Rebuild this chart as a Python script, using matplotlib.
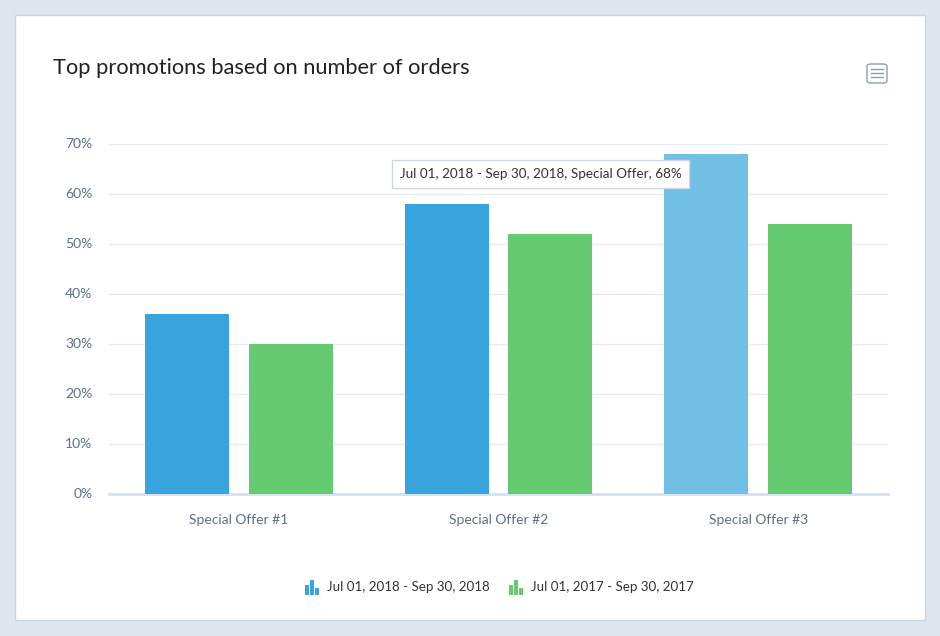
import matplotlib
matplotlib.use("Agg")
import matplotlib.pyplot as plt
from matplotlib.patches import Rectangle, FancyBboxPatch
import numpy as np

categories = ["Special Offer #1", "Special Offer #2", "Special Offer #3"]
series_2018 = [36, 58, 68]
series_2017 = [30, 52, 54]
series_names = ["Jul 01, 2018 - Sep 30, 2018", "Jul 01, 2017 - Sep 30, 2017"]
y_ticks = [0, 10, 20, 30, 40, 50, 60, 70]
y_tick_labels = [f"{v}%" for v in y_ticks]
title = "Top promotions based on number of orders"
tooltip = "Jul 01, 2018 - Sep 30, 2018, Special Offer, 68%"

BLUE = "#38a4dd"
BLUE_HOVER = "#72bfe6"
GREEN = "#66cb70"
TICK = "#5b7089"
FONT = ["Lato", "DejaVu Sans"]

W, H = 940, 636
fig = plt.figure(figsize=(W / 100, H / 100), dpi=100)
fig.patch.set_facecolor("#dfe6ee")

# white card
card = Rectangle((15 / W, (H - 620) / H), 910 / W, 605 / H, transform=fig.transFigure,
                 facecolor="white", edgecolor="#c9d6e3", linewidth=1, zorder=-10)
fig.patches.append(card)

ax = fig.add_axes([109 / W, (H - 493.5) / H, 779 / W, 350 / H], zorder=1)
ax.set_facecolor("none")
x = np.arange(len(categories))
bw = 0.323
b1 = ax.bar(x - 0.2, series_2018, width=bw, color=BLUE, zorder=3)
b1[2].set_facecolor(BLUE_HOVER)
ax.bar(x + 0.2, series_2017, width=bw, color=GREEN, zorder=3)
ax.set_xlim(-0.5, 2.5)
ax.set_ylim(0, 70)
ax.set_yticks(y_ticks)
ax.set_yticklabels(y_tick_labels, fontsize=10, color=TICK, family=FONT)
ax.set_xticks(x)
ax.set_xticklabels(categories, fontsize=10, color=TICK, family=FONT)
ax.tick_params(axis="both", length=0)
ax.tick_params(axis="y", pad=12)
ax.tick_params(axis="x", pad=15)
ax.grid(axis="y", color="#e6ebf1", linewidth=1, zorder=0)
for s in ["top", "right", "left"]:
    ax.spines[s].set_visible(False)
ax.spines["bottom"].set_color("#d5e1ee")
ax.spines["bottom"].set_linewidth(2)

fig.text(53 / W, 1 - 68 / H, title, fontsize=15.75, color="#222222", family=FONT, va="center", zorder=2)

# menu icon
menu = FancyBboxPatch((867 / W, 1 - 83 / H), 20 / W, 19 / H, boxstyle="round,pad=0,rounding_size=0.004",
                      transform=fig.transFigure, facecolor="white", edgecolor="#8a9db2", linewidth=1, zorder=2)
fig.patches.append(menu)
for yy in [69, 73, 77]:
    fig.add_artist(plt.Line2D([871 / W, 883 / W], [1 - yy / H] * 2, color="#8a9db2", linewidth=1, zorder=3))

# tooltip
fig.text(540.5 / W, 1 - 174 / H, tooltip, fontsize=9.7, color="#333333", family=FONT,
         ha="center", va="center", zorder=5,
         bbox=dict(boxstyle="square,pad=0.6", facecolor="white", edgecolor="#cfd8e2", linewidth=1))

# legend
def legend_icon(x0, color):
    for dx, h in [(0, 10), (5, 15), (10, 7)]:
        fig.patches.append(Rectangle(((x0 + dx) / W, 1 - 595 / H), 4 / W, h / H,
                                     transform=fig.transFigure, facecolor=color, edgecolor="none", zorder=2))

legend_icon(305, BLUE)
fig.text(327 / W, 1 - 587 / H, series_names[0], fontsize=9.6, color="#333333", family=FONT, va="center", zorder=2)
legend_icon(509, GREEN)
fig.text(531 / W, 1 - 587 / H, series_names[1], fontsize=9.6, color="#333333", family=FONT, va="center", zorder=2)

fig.savefig("out.png", dpi=100, facecolor=fig.get_facecolor())
